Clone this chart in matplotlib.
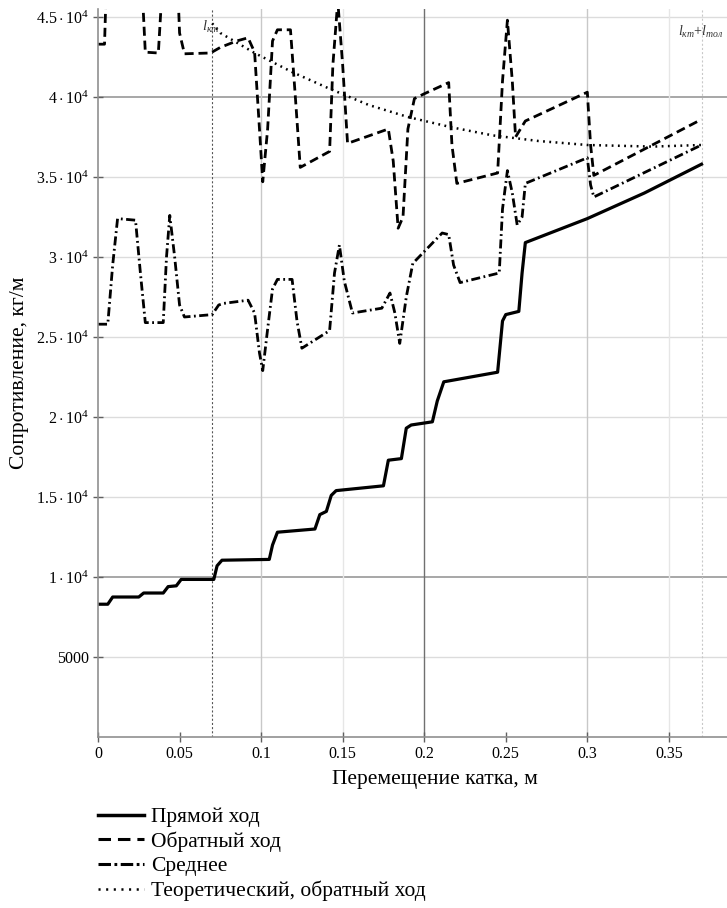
import matplotlib
matplotlib.use("Agg")
import matplotlib.pyplot as plt
from matplotlib.lines import Line2D

plt.rcParams['font.family'] = ['Liberation Serif', 'DejaVu Serif']
plt.rcParams['mathtext.fontset'] = 'custom'
plt.rcParams['mathtext.rm'] = 'Liberation Serif'
plt.rcParams['mathtext.it'] = 'Liberation Serif:italic'
plt.rcParams['lines.scale_dashes'] = False

# Прямой ход
x_fwd = [0, 0.006, 0.009, 0.025, 0.028, 0.040, 0.043, 0.048, 0.051, 0.071, 0.073, 0.076,
         0.105, 0.107, 0.110, 0.133, 0.136, 0.140, 0.143, 0.146, 0.175, 0.178, 0.186,
         0.189, 0.192, 0.205, 0.208, 0.212, 0.245, 0.248, 0.250, 0.258, 0.260, 0.262,
         0.300, 0.335, 0.370]
y_fwd = [8300, 8300, 8750, 8750, 9000, 9000, 9400, 9450, 9850, 9850, 10700, 11050,
         11100, 12000, 12800, 13000, 13900, 14100, 15100, 15400, 15700, 17300, 17400,
         19300, 19500, 19700, 21000, 22200, 22800, 26000, 26400, 26600, 29000, 30900,
         32400, 34000, 35800]

# Обратный ход
x_back = [0, 0.004, 0.006, 0.009, 0.023, 0.026, 0.029, 0.037, 0.040, 0.043, 0.047, 0.050,
          0.053, 0.069, 0.075, 0.085, 0.092, 0.096, 0.099, 0.101, 0.104, 0.107, 0.110,
          0.118, 0.121, 0.124, 0.142, 0.144, 0.147, 0.150, 0.153, 0.178, 0.181, 0.184,
          0.187, 0.190, 0.194, 0.200, 0.215, 0.217, 0.220, 0.245, 0.248, 0.251, 0.254,
          0.256, 0.262, 0.300, 0.302, 0.304, 0.370]
y_back = [43300, 43300, 50000, 56000, 56000, 49000, 42800, 42750, 48000, 56000, 52000, 44000,
          42700, 42750, 43100, 43500, 43700, 42800, 38000, 34700, 38000, 43500, 44200,
          44200, 40000, 35600, 36600, 42000, 46000, 42000, 37100, 38000, 36000, 31800,
          32500, 38000, 39900, 40200, 40900, 37000, 34600, 35250, 41000, 44800, 41000,
          37500, 38500, 40300, 37000, 35100, 38600]

# Среднее
x_mean = [0, 0.006, 0.009, 0.012, 0.023, 0.026, 0.029, 0.040, 0.042, 0.044, 0.047, 0.050,
          0.053, 0.070, 0.074, 0.077, 0.092, 0.096, 0.099, 0.101, 0.104, 0.107, 0.110,
          0.119, 0.122, 0.125, 0.142, 0.145, 0.148, 0.151, 0.156, 0.174, 0.179, 0.182,
          0.185, 0.189, 0.193, 0.211, 0.215, 0.218, 0.222, 0.246, 0.248, 0.251, 0.254,
          0.257, 0.260, 0.262, 0.300, 0.302, 0.304, 0.370]
y_mean = [25800, 25800, 29500, 32400, 32300, 29000, 25900, 25900, 30000, 32600, 30000, 27000,
          26250, 26400, 27000, 27100, 27300, 26500, 24000, 22900, 25500, 28000, 28600,
          28600, 26000, 24300, 25400, 29000, 30750, 28500, 26500, 26800, 27750, 26500,
          24600, 27500, 29600, 31500, 31400, 29500, 28400, 29000, 33000, 35400, 34000,
          32000, 32500, 34600, 36200, 34500, 33750, 37000]

# Теоретический, обратный ход
x_theory = [0.070, 0.075, 0.096, 0.119, 0.141, 0.166, 0.190, 0.217, 0.242, 0.270, 0.300, 0.340, 0.370]
y_theory = [44600, 44000, 42750, 41560, 40560, 39500, 38750, 38100, 37600, 37250, 37000, 36900, 37000]

x_ticks = [0, 0.05, 0.1, 0.15, 0.2, 0.25, 0.3, 0.35]
x_ticklabels = ['0', '0.05', '0.1', '0.15', '0.2', '0.25', '0.3', '0.35']
y_ticks = [5000, 10000, 15000, 20000, 25000, 30000, 35000, 40000, 45000]
y_ticklabels = ['5000', r'$1\cdot10^4$', r'$1.5\cdot10^4$', r'$2\cdot10^4$', r'$2.5\cdot10^4$',
                r'$3\cdot10^4$', r'$3.5\cdot10^4$', r'$4\cdot10^4$', r'$4.5\cdot10^4$']
l_kt = 0.07
l_end = 0.37

fig = plt.figure(figsize=(7.27, 9.08), dpi=100)
ax = fig.add_axes([0.1348, 0.1883, 0.875, 0.8018])

# сетка
for yv in y_ticks:
    strong = yv in (10000, 40000)
    ax.axhline(yv, color='#a0a0a0' if strong else '#dcdcdc', lw=1.3 if strong else 1.0, zorder=0)
for xv in [0.1, 0.15, 0.2, 0.3, 0.35]:
    c = '#707070' if xv == 0.2 else ('#c8c8c8' if xv in (0.1, 0.3) else '#e6e6e6')
    ax.axvline(xv, color=c, lw=1.0, zorder=0)
ax.axvline(l_kt, color='#555555', lw=0.8, ls=(0, (1.5, 1.5)), zorder=1)
ax.axvline(l_end, color='#c8c8c8', lw=0.8, ls=(0, (1.5, 1.5)), zorder=1)

ax.plot(x_fwd, y_fwd, color='black', lw=2.3, solid_joinstyle='round')
ax.plot(x_back, y_back, color='black', lw=2.0, dashes=(6.5, 3.5))
ax.plot(x_mean, y_mean, color='black', lw=2.0, dashes=(6.5, 2.5, 1.3, 2.5))
ax.plot(x_theory, y_theory, color='black', lw=1.8, dashes=(1.3, 3.2))

ax.text(l_kt - 0.006, 44100, r'$l_{кт}$', fontsize=10.5, color='#333333')
ax.text(0.3835, 43800, r'$l_{кт}$+$l_{тол}$', fontsize=10, color='#333333', ha='right')

ax.set_xlim(0, 0.39)
ax.set_ylim(0, 45500)
ax.set_xticks(x_ticks)
ax.set_xticklabels(x_ticklabels)
ax.set_yticks(y_ticks)
ax.set_yticklabels(y_ticklabels)
ax.tick_params(axis='both', direction='inout', length=7, width=1, color='#606060',
               labelsize=11.5, pad=3)
for s in ['top', 'right']:
    ax.spines[s].set_visible(False)
for s in ['left', 'bottom']:
    ax.spines[s].set_color('#909090')
    ax.spines[s].set_linewidth(1.2)

ax.set_xlabel('Перемещение катка, м', fontsize=15.5)
ax.xaxis.set_label_coords((435 - 98) / (0.875 * 727), -0.045)
ax.set_ylabel('Сопротивление, кг/м', fontsize=15.5)
ax.yaxis.set_label_coords(-0.108, 0.5)

handles = [
    Line2D([], [], color='black', lw=2.5),
    Line2D([], [], color='black', lw=2.2, dashes=(9, 5)),
    Line2D([], [], color='black', lw=2.2, dashes=(9, 2.5, 2, 2.5)),
    Line2D([], [], color='black', lw=1.8, dashes=(1.5, 4)),
]
labels = ['Прямой ход', 'Обратный ход', 'Среднее', 'Теоретический, обратный ход']
fig.legend(handles, labels, loc='upper left', bbox_to_anchor=(98 / 727, 1 - 807 / 908),
           frameon=False, fontsize=15.5, handlelength=2.15, handletextpad=0.33,
           labelspacing=0.2, borderaxespad=0, borderpad=0)

fig.savefig('out.png', dpi=100)
